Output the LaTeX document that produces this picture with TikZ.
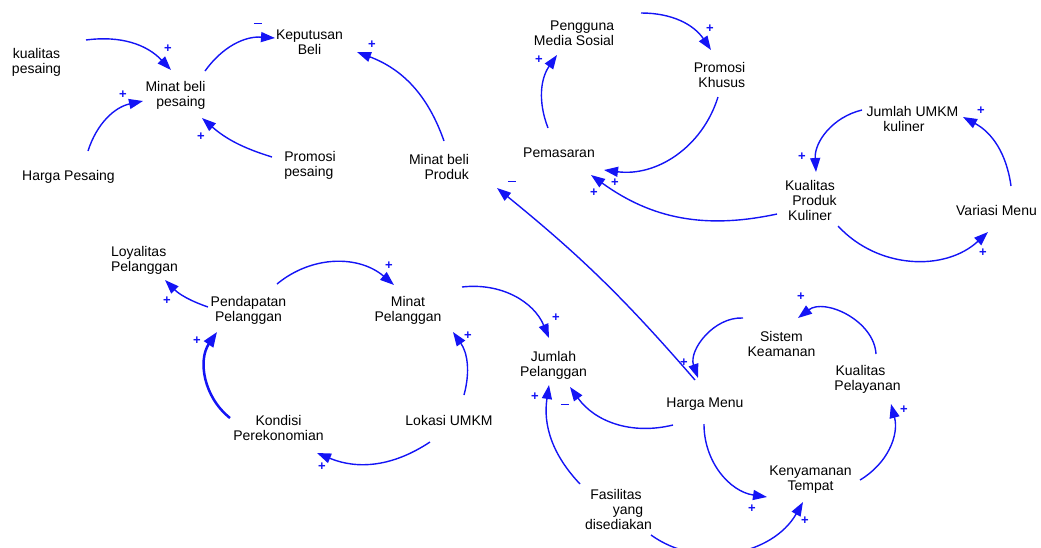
\documentclass[tikz,border=0pt]{standalone}
\usepackage{fontspec}
\setmainfont{Liberation Sans}
\usetikzlibrary{arrows.meta}
\definecolor{arcblue}{RGB}{20,20,245}
\tikzset{
  var/.style={inner sep=0pt, text=black, font=\fontsize{14}{15}\selectfont, align=center},
  arr/.style={draw=arcblue, line width=1.4pt, -{Triangle[length=14pt,width=10pt]}},
  pol/.style={inner sep=0pt, text=arcblue, font=\fontsize{13}{13}\selectfont\bfseries},
}
\newcommand{\mns}{\rule[3pt]{8.5pt}{1.6pt}}
\begin{document}
\begin{tikzpicture}[x=1pt,y=1pt]
\useasboundingbox (0,0) rectangle (1041,-547);
\clip (0,0) rectangle (1041,-547);
% variables
\node[var] (kp) at (36.5,-62) {kualitas\\pesaing};
\node[var] (hp) at (68.5,-177) {Harga Pesaing};
\node[var,align=right] (mbp) at (175.5,-95) {Minat beli\\pesaing};
\node[var] (kb) at (309.5,-42) {Keputusan\\Beli};
\node[var,align=left] (pp) at (310,-165) {Promosi\\pesaing};
\node[var,align=right] (mbprod) at (439,-167) {Minat beli\\Produk};
\node[var,align=right] (pms) at (574,-33) {Pengguna\\Media Sosial};
\node[var,align=right] (pk) at (719.5,-75) {Promosi\\Khusus};
\node[var] (pem) at (559,-153) {Pemasaran};
\node[var] (jumkm) at (912.5,-119) {Jumlah UMKM\\kuliner\hspace*{17pt}};
\node[var] (kpk) at (810,-200) {Kualitas\\\hspace*{9pt}Produk\\Kuliner};
\node[var] (vm) at (996.5,-210) {Variasi Menu};
\node[var,align=left] (lp) at (144.5,-260) {Loyalitas\\Pelanggan};
\node[var] (pdp) at (248.5,-310) {Pendapatan\\Pelanggan};
\node[var] (mp) at (408,-310) {Minat\\Pelanggan};
\node[var] (kper) at (278.5,-428) {Kondisi\\Perekonomian};
\node[var] (lok) at (449,-420) {Lokasi UMKM};
\node[var] (jp) at (553.5,-365) {Jumlah\\Pelanggan};
\node[var] (hm) at (705,-404) {Harga Menu};
\node[var] (sk) at (781.5,-344) {Sistem\\Keamanan};
\node[var] (kpl) at (867.5,-379) {Kualitas\hspace*{14pt}\\Pelayanan};
\node[var] (kt) at (810.5,-480) {Kenyamanan\\Tempat};
\node[var] (fas) at (618.5,-509) {Fasilitas\hspace*{5pt}\\\hspace*{19pt}yang\\disediakan};
% connectors
\draw[arr] ([shift={(49.5,22)}]kp.center) to[bend left=27] ([shift={(-4.5,25)}]mbp.center);
\draw[arr] ([shift={(19.5,26)}]hp.center) to[bend left=30] ([shift={(-32.5,-6)}]mbp.center);
\draw[arr] ([shift={(-38,8)}]pp.center) to[bend left=12] ([shift={(26.5,-23)}]mbp.center);
\draw[arr] ([shift={(29.5,24)}]mbp.center) to[bend left=29] ([shift={(-34.5,4)}]kb.center);
\draw[arr] ([shift={(5,26)}]mbprod.center) to[bend right=25] ([shift={(47.5,-10)}]kb.center);
\draw[arr] ([shift={(-10,24)}]hm.center) to[bend right=5] ([shift={(58,-21)}]mbprod.center);
\draw[arr] ([shift={(-11,25)}]pem.center) to[bend left=28] ([shift={(-17,-22)}]pms.center);
\draw[arr] ([shift={(67,20)}]pms.center) to[bend left=28] ([shift={(-8.5,25)}]pk.center);
\draw[arr] ([shift={(-1.5,-22)}]pk.center) to[bend left=40] ([shift={(45,-17)}]pem.center);
\draw[arr] ([shift={(-33,-14)}]kpk.center) to[bend left=24] ([shift={(32,-22)}]pem.center);
\draw[arr] ([shift={(-50.5,9)}]jumkm.center) to[bend right=40] ([shift={(6,28)}]kpk.center);
\draw[arr] ([shift={(14.5,24)}]vm.center) to[bend right=27] ([shift={(50.5,2)}]jumkm.center);
\draw[arr] ([shift={(28,-26)}]kpk.center) to[bend right=45] ([shift={(-8.5,-22)}]vm.center);
\draw[arr] ([shift={(-40.5,3)}]pdp.center) to[bend left=13] ([shift={(20.5,-20)}]lp.center);
\draw[arr] ([shift={(28.5,26)}]pdp.center) to[bend left=40] ([shift={(-14,25)}]mp.center);
\draw[arr] ([shift={(54,23)}]mp.center) to[bend left=37] ([shift={(-4.5,27)}]jp.center);
\draw[arr] ([shift={(15,25)}]lok.center) to[bend right=25] ([shift={(45,-22)}]mp.center);
\draw[arr] ([shift={(-19,-22)}]lok.center) to[bend left=28] ([shift={(38.5,-25)}]kper.center);
\draw[arr,line width=2.5pt,-{Triangle[length=15pt,width=11pt]}] ([shift={(-48.5,10)}]kper.center) to[bend left=43] ([shift={(-31.5,-22)}]pdp.center);
\draw[arr] ([shift={(-32,-21)}]hm.center) to[bend left=34] ([shift={(16.5,-22)}]jp.center);
\draw[arr] ([shift={(-38.5,25)}]fas.center) to[bend left=26] ([shift={(-4.5,-20)}]jp.center);
\draw[arr] ([shift={(32.5,-26)}]fas.center) to[bend right=48] ([shift={(-7.5,-22)}]kt.center);
\draw[arr] ([shift={(-1,-20)}]hm.center) to[bend right=41] ([shift={(-43.5,-17)}]kt.center);
\draw[arr] ([shift={(49.5,0)}]kt.center) to[bend right=37] ([shift={(23.5,-25)}]kpl.center);
\draw[arr] ([shift={(8.5,25)}]kpl.center) to[bend right=62] ([shift={(16.5,26)}]sk.center);
\draw[arr] ([shift={(-38.5,26)}]sk.center) to[bend right=56] ([shift={(-7,26)}]hm.center);
% polarities
\node[pol] (p1) at (168,-49) {+};
\node[pol] (p2) at (123,-95) {+};
\node[pol] (p3) at (201,-137) {+};
\node[pol] (p4) at (258,-25) {\mns};
\node[pol] (p5) at (372,-45) {+};
\node[pol] (p6) at (512,-183) {\mns};
\node[pol] (p7) at (539,-60) {+};
\node[pol] (p8) at (710,-29) {+};
\node[pol] (p9) at (615,-183) {+};
\node[pol] (p10) at (594,-193) {+};
\node[pol] (p11) at (802,-157) {+};
\node[pol] (p12) at (981,-111) {+};
\node[pol] (p13) at (983,-253) {+};
\node[pol] (p14) at (167,-301) {+};
\node[pol] (p15) at (389,-266) {+};
\node[pol] (p16) at (556,-318) {+};
\node[pol] (p17) at (468,-336) {+};
\node[pol] (p18) at (322,-467) {+};
\node[pol] (p19) at (197,-341) {+};
\node[pol] (p20) at (565,-406) {\mns};
\node[pol] (p21) at (535,-397) {+};
\node[pol] (p22) at (805,-521) {+};
\node[pol] (p23) at (752,-509) {+};
\node[pol] (p24) at (904,-410) {+};
\node[pol] (p25) at (801,-297) {+};
\node[pol] (p26) at (684,-363) {+};
\end{tikzpicture}
\end{document}
